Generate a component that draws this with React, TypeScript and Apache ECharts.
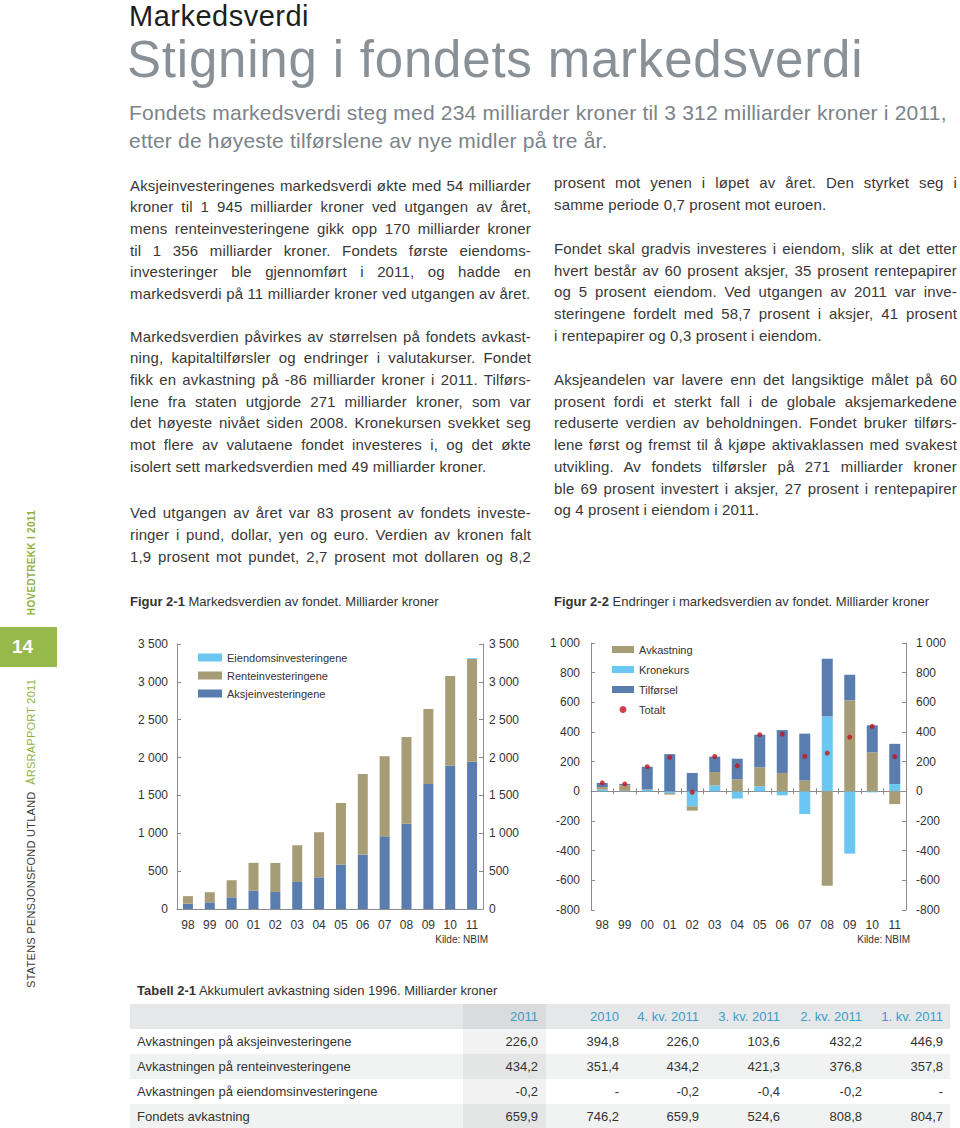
import React, { useEffect, useRef } from 'react';
import * as echarts from 'echarts';

// ---------- data ----------
const years = ['98', '99', '00', '01', '02', '03', '04', '05', '06', '07', '08', '09', '10', '11'];

// Figur 2-1 (milliarder kroner)
const aksje = [70, 88, 154, 242, 225, 357, 418, 586, 718, 960, 1127, 1651, 1891, 1945];
const rente = [100, 134, 226, 368, 383, 485, 596, 814, 1065, 1058, 1145, 991, 1186, 1356];
const eiendom = [0, 0, 0, 0, 0, 0, 0, 0, 0, 0, 0, 0, 0, 11];

// Figur 2-2 (milliarder kroner)
const kronekurs = [11, 3, 10, -12, -101, 40, -49, 34, -27, -153, 506, -420, -7, 49];
const avkastning = [18, 38, 3, -10, -29, 90, 81, 128, 124, 74, -636, 613, 263, -86];
const tilforsel = [27, 9, 153, 251, 124, 104, 139, 220, 289, 315, 388, 173, 182, 271];
const totalt = [57, 50, 166, 229, -6, 235, 172, 382, 386, 236, 258, 365, 438, 234];

// Tabell 2-1
const tableCols = ['2011', '2010', '4. kv. 2011', '3. kv. 2011', '2. kv. 2011', '1. kv. 2011'];
const tableLabels = [
  'Avkastningen på aksjeinvesteringene',
  'Avkastningen på renteinvesteringene',
  'Avkastningen på eiendomsinvesteringene',
  'Fondets avkastning',
];
const rowAksje = ['226,0', '394,8', '226,0', '103,6', '432,2', '446,9'];
const rowRente = ['434,2', '351,4', '434,2', '421,3', '376,8', '357,8'];
const rowEiendom = ['-0,2', '-', '-0,2', '-0,4', '-0,2', '-'];
const rowFond = ['659,9', '746,2', '659,9', '524,6', '808,8', '804,7'];
const tableRows = [rowAksje, rowRente, rowEiendom, rowFond];

// ---------- text ----------
const leftP1 = [
  'Aksjeinvesteringenes markedsverdi økte med 54 milliarder',
  'kroner til 1 945 milliarder kroner ved utgangen av året,',
  'mens renteinvesteringene gikk opp 170 milliarder kroner',
  'til 1 356 milliarder kroner. Fondets første eiendoms-',
  'investeringer ble gjennomført i 2011, og hadde en',
  'markedsverdi på 11 milliarder kroner ved utgangen av året.',
];
const leftP2 = [
  'Markedsverdien påvirkes av størrelsen på fondets avkast-',
  'ning, kapitaltilførsler og endringer i valutakurser. Fondet',
  'fikk en avkastning på -86 milliarder kroner i 2011. Tilførs-',
  'lene fra staten utgjorde 271 milliarder kroner, som var',
  'det høyeste nivået siden 2008. Kronekursen svekket seg',
  'mot flere av valutaene fondet investeres i, og det økte',
  'isolert sett markedsverdien med 49 milliarder kroner.',
];
const leftP3 = [
  'Ved utgangen av året var 83 prosent av fondets investe-',
  'ringer i pund, dollar, yen og euro. Verdien av kronen falt',
  '1,9 prosent mot pundet, 2,7 prosent mot dollaren og 8,2',
];
const rightP1 = [
  'prosent mot yenen i løpet av året. Den styrket seg i',
  'samme periode 0,7 prosent mot euroen.',
];
const rightP2 = [
  'Fondet skal gradvis investeres i eiendom, slik at det etter',
  'hvert består av 60 prosent aksjer, 35 prosent rentepapirer',
  'og 5 prosent eiendom. Ved utgangen av 2011 var inve-',
  'steringene fordelt med 58,7 prosent i aksjer, 41 prosent',
  'i rentepapirer og 0,3 prosent i eiendom.',
];
const rightP3 = [
  'Aksjeandelen var lavere enn det langsiktige målet på 60',
  'prosent fordi et sterkt fall i de globale aksjemarkedene',
  'reduserte verdien av beholdningen. Fondet bruker tilførs-',
  'lene først og fremst til å kjøpe aktivaklassen med svakest',
  'utvikling. Av fondets tilførsler på 271 milliarder kroner',
  'ble 69 prosent investert i aksjer, 27 prosent i rentepapirer',
  'og 4 prosent i eiendom i 2011.',
];

const FF = '"Liberation Sans", Arial, Helvetica, sans-serif';
const BLUE = '#5a7db0';
const TAN = '#a69c76';
const LIGHT = '#6bc7f2';
const AXIS = '#8c8c8c';
const TXT = '#333333';
const GREEN = '#8db33e';

const fmt = (v: number) => {
  const a = Math.abs(v);
  const s = a >= 1000 ? Math.floor(a / 1000) + ' ' + String(a % 1000).padStart(3, '0') : String(a);
  return (v < 0 ? '-' : '') + s;
};

const TOP = 620;

function buildOption() {
  const label = { color: TXT, fontSize: 12, fontFamily: FF };
  const yBase = (grid: number, pos: 'left' | 'right', min: number, max: number, margin: number) => ({
    gridIndex: grid,
    type: 'value',
    position: pos,
    min,
    max,
    interval: grid === 0 ? 500 : 200,
    axisLine: { show: true, lineStyle: { color: AXIS, width: 1 } },
    axisTick: { show: true, inside: true, length: 4, lineStyle: { color: AXIS } },
    splitLine: { show: false },
    axisLabel: { ...label, margin, formatter: fmt },
  });
  return {
    animation: false,
    textStyle: { fontFamily: FF },
    grid: [
      { left: 177, width: 306, top: 644 - TOP, height: 265 },
      { left: 591, width: 315, top: 643 - TOP, height: 267 },
    ],
    legend: [
      {
        orient: 'vertical',
        left: 193,
        top: 647 - TOP,
        itemWidth: 24,
        itemHeight: 8,
        itemGap: 7,
        icon: 'rect',
        data: ['Eiendomsinvesteringene', 'Renteinvesteringene', 'Aksjeinvesteringene'],
        textStyle: { fontSize: 11, color: TXT, fontFamily: FF },
      },
      {
        orient: 'vertical',
        left: 607,
        top: 639 - TOP,
        itemWidth: 22,
        itemHeight: 7,
        itemGap: 9,
        data: [
          { name: 'Avkastning', icon: 'rect' },
          { name: 'Kronekurs', icon: 'rect' },
          { name: 'Tilførsel', icon: 'rect' },
          { name: 'Totalt', icon: 'circle' },
        ],
        textStyle: { fontSize: 11, color: TXT, fontFamily: FF },
      },
    ],
    xAxis: [
      {
        gridIndex: 0,
        type: 'category',
        data: years,
        axisLine: { lineStyle: { color: AXIS } },
        axisTick: { inside: true, length: 3, lineStyle: { color: AXIS } },
        axisLabel: { ...label, margin: 10 },
      },
      {
        gridIndex: 1,
        type: 'category',
        data: years,
        position: 'bottom',
        axisLine: { show: false, onZero: false },
        axisTick: { show: false },
        axisLabel: { ...label, margin: 9 },
      },
      {
        gridIndex: 1,
        type: 'category',
        data: years,
        position: 'bottom',
        axisLine: { show: true, onZero: true, lineStyle: { color: AXIS } },
        axisTick: { show: true, length: 3, lineStyle: { color: AXIS } },
        axisLabel: { show: false },
      },
      {
        gridIndex: 1,
        type: 'category',
        data: years,
        position: 'top',
        axisLine: { show: false, onZero: true },
        axisTick: { show: true, length: 3, lineStyle: { color: AXIS } },
        axisLabel: { show: false },
      },
    ],
    yAxis: [
      yBase(0, 'left', 0, 3500, 9),
      yBase(0, 'right', 0, 3500, 6),
      yBase(1, 'left', -800, 1000, 11),
      yBase(1, 'right', -800, 1000, 10),
    ],
    graphic: [
      { type: 'text', right: 960 - 488, top: 934 - TOP, style: { text: 'Kilde: NBIM', fontSize: 10, fill: TXT, fontFamily: FF } },
      { type: 'text', right: 960 - 910, top: 934 - TOP, style: { text: 'Kilde: NBIM', fontSize: 10, fill: TXT, fontFamily: FF } },
    ],
    series: [
      { name: 'Aksjeinvesteringene', type: 'bar', xAxisIndex: 0, yAxisIndex: 0, stack: 'mv', barWidth: 10, data: aksje, itemStyle: { color: BLUE } },
      { name: 'Renteinvesteringene', type: 'bar', xAxisIndex: 0, yAxisIndex: 0, stack: 'mv', barWidth: 10, data: rente, itemStyle: { color: TAN } },
      { name: 'Eiendomsinvesteringene', type: 'bar', xAxisIndex: 0, yAxisIndex: 0, stack: 'mv', barWidth: 10, data: eiendom, itemStyle: { color: LIGHT } },
      { name: 'Kronekurs', type: 'bar', xAxisIndex: 1, yAxisIndex: 2, stack: 'chg', barWidth: 11, data: kronekurs, itemStyle: { color: LIGHT } },
      { name: 'Avkastning', type: 'bar', xAxisIndex: 1, yAxisIndex: 2, stack: 'chg', barWidth: 11, data: avkastning, itemStyle: { color: TAN } },
      { name: 'Tilførsel', type: 'bar', xAxisIndex: 1, yAxisIndex: 2, stack: 'chg', barWidth: 11, data: tilforsel, itemStyle: { color: BLUE } },
      { name: 'Totalt', type: 'scatter', xAxisIndex: 1, yAxisIndex: 2, symbolSize: 5, data: totalt, itemStyle: { color: '#c0141e' }, z: 5 },
    ],
  };
}

const bodyStyle: React.CSSProperties = {
  position: 'absolute',
  fontFamily: FF,
  fontSize: 15,
  lineHeight: '21.7px',
  letterSpacing: 0.15,
  color: '#383838',
};

function Para({ lines, left, top, width, justifyLast }: { lines: string[]; left: number; top: number; width: number; justifyLast?: boolean }) {
  return (
    <div style={{ ...bodyStyle, left, top, width }}>
      {lines.map((l, i) => (
        <div
          key={i}
          style={{
            textAlign: 'justify',
            textAlignLast: i < lines.length - 1 || justifyLast ? 'justify' : 'left',
            whiteSpace: 'nowrap',
          }}
        >
          {l}
        </div>
      ))}
    </div>
  );
}

const colRight = [538, 619, 699, 780, 862, 943];

export default function App() {
  const ref = useRef<HTMLDivElement>(null);
  useEffect(() => {
    document.body.style.margin = '0';
    const chart = echarts.init(ref.current as HTMLDivElement, null, { renderer: 'svg' });
    chart.setOption(buildOption() as any);
    return () => chart.dispose();
  }, []);

  const rowTop = 1004;
  const rowH = 25;

  return (
    <div style={{ position: 'absolute', left: 0, top: 0, width: 960, height: 1128, overflow: 'hidden', background: '#fff', fontFamily: FF }}>
      {/* Headings */}
      <div style={{ position: 'absolute', left: 129, top: 0, fontSize: 29, lineHeight: '32px', color: '#1e1e1e', letterSpacing: 0.5, whiteSpace: 'nowrap' }}>
        Markedsverdi
      </div>
      <div style={{ position: 'absolute', left: 127, top: 34, fontSize: 51, lineHeight: '51px', color: '#899197', letterSpacing: 0.8, whiteSpace: 'nowrap' }}>
        Stigning i fondets markedsverdi
      </div>
      <div style={{ position: 'absolute', left: 129, top: 99, fontSize: 21, lineHeight: '28px', letterSpacing: 0.2, color: '#7c8389', whiteSpace: 'nowrap' }}>
        <div>Fondets markedsverdi steg med 234 milliarder kroner til 3 312 milliarder kroner i 2011,</div>
        <div>etter de høyeste tilførslene av nye midler på tre år.</div>
      </div>

      {/* Body text */}
      <Para lines={leftP1} left={130} top={174.6} width={401} />
      <Para lines={leftP2} left={130} top={325.6} width={401} />
      <Para lines={leftP3} left={130} top={502.2} width={401} justifyLast />
      <Para lines={rightP1} left={554} top={172.2} width={403} />
      <Para lines={rightP2} left={554} top={238} width={403} />
      <Para lines={rightP3} left={554} top={369} width={403} />

      {/* Figure captions */}
      <div style={{ position: 'absolute', left: 130, top: 594, fontSize: 13, lineHeight: '16px', color: TXT, whiteSpace: 'nowrap' }}>
        <b style={{ fontWeight: 700 }}>Figur 2-1</b> Markedsverdien av fondet. Milliarder kroner
      </div>
      <div style={{ position: 'absolute', left: 554, top: 594, fontSize: 13, lineHeight: '16px', color: TXT, whiteSpace: 'nowrap' }}>
        <b style={{ fontWeight: 700 }}>Figur 2-2</b> Endringer i markedsverdien av fondet. Milliarder kroner
      </div>

      {/* Charts */}
      <div ref={ref} style={{ position: 'absolute', left: 0, top: TOP, width: 960, height: 340 }} />

      {/* Sidebar */}
      <div
        style={{
          position: 'absolute',
          left: 25,
          bottom: 1128 - 615,
          writingMode: 'vertical-rl',
          transform: 'rotate(180deg)',
          fontSize: 10,
          lineHeight: '14px',
          fontWeight: 700,
          letterSpacing: 0.3,
          color: GREEN,
          whiteSpace: 'nowrap',
        }}
      >
        HOVEDTREKK I 2011
      </div>
      <div style={{ position: 'absolute', left: 0, top: 627, width: 57, height: 40, background: '#97b94b' }}>
        <div style={{ position: 'absolute', left: 12, top: 9, fontSize: 19, lineHeight: '22px', fontWeight: 700, color: '#fff' }}>14</div>
      </div>
      <div
        style={{
          position: 'absolute',
          left: 24,
          bottom: 1128 - 988,
          writingMode: 'vertical-rl',
          transform: 'rotate(180deg)',
          fontSize: 11,
          lineHeight: '14px',
          letterSpacing: 0.25,
          whiteSpace: 'pre',
          color: '#3a3a3a',
        }}
      >
        {'STATENS PENSJONSFOND UTLAND  '}
        <span style={{ color: GREEN }}>ÅRSRAPPORT 2011</span>
      </div>

      {/* Table */}
      <div style={{ position: 'absolute', left: 137, top: 982.5, fontSize: 13, lineHeight: '16px', color: TXT, whiteSpace: 'nowrap' }}>
        <b style={{ fontWeight: 700 }}>Tabell 2-1</b> Akkumulert avkastning siden 1996. Milliarder kroner
      </div>
      <div style={{ position: 'absolute', left: 130, top: rowTop, width: 820, height: rowH, background: '#e5e7e8' }} />
      {tableRows.map((_, r) => (
        <div
          key={'bg' + r}
          style={{ position: 'absolute', left: 130, top: rowTop + rowH * (r + 1), width: 820, height: rowH, background: r % 2 === 1 ? '#f1f2f2' : '#ffffff' }}
        />
      ))}
      <div style={{ position: 'absolute', left: 463, top: rowTop, width: 83, height: rowH * 5, background: 'rgba(0,0,0,0.05)' }} />
      {tableCols.map((c, i) => (
        <div
          key={'h' + i}
          style={{ position: 'absolute', right: 960 - colRight[i], top: rowTop, height: rowH, lineHeight: rowH + 'px', fontSize: 13, color: '#3a9dca', whiteSpace: 'nowrap' }}
        >
          {c}
        </div>
      ))}
      {tableRows.map((row, r) => (
        <React.Fragment key={'r' + r}>
          <div style={{ position: 'absolute', left: 137, top: rowTop + rowH * (r + 1), height: rowH, lineHeight: rowH + 'px', fontSize: 13, color: TXT, whiteSpace: 'nowrap' }}>
            {tableLabels[r]}
          </div>
          {row.map((v, i) => (
            <div
              key={i}
              style={{ position: 'absolute', right: 960 - colRight[i], top: rowTop + rowH * (r + 1), height: rowH, lineHeight: rowH + 'px', fontSize: 13, color: TXT, whiteSpace: 'nowrap' }}
            >
              {v}
            </div>
          ))}
        </React.Fragment>
      ))}
    </div>
  );
}
